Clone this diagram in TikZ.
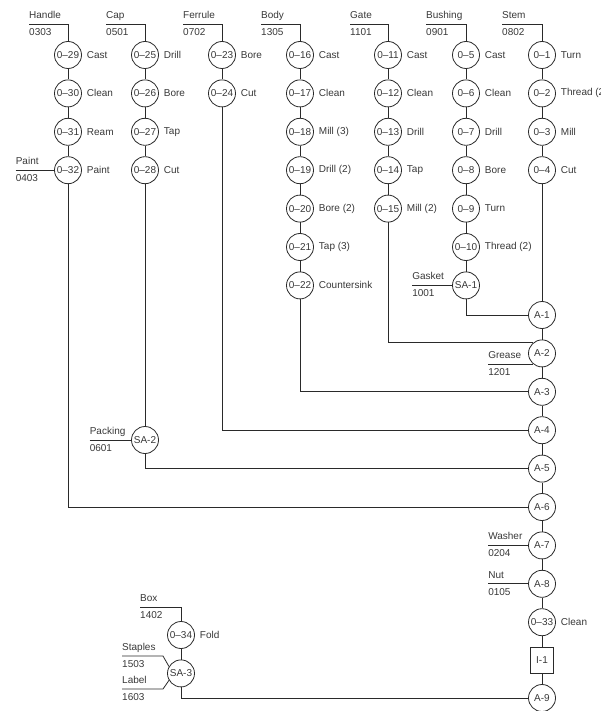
\documentclass[tikz,border=0pt]{standalone}
\usepackage{fontspec}
\setmainfont{Liberation Sans}
\usetikzlibrary{positioning}
\definecolor{ink}{HTML}{2A2A2A}
\definecolor{txt}{HTML}{383838}

\begin{document}
\begin{tikzpicture}[
    x=1pt, y=-1pt,
    node distance=10.6pt,
    label distance=1.5pt,
    op/.style={circle, draw=ink, line width=0.8pt, minimum size=27pt,
               inner sep=0pt, text=txt, font=\fontsize{10}{12}\selectfont},
    opname/.style={text=txt, font=\fontsize{10}{12}\selectfont},
    insp/.style={rectangle, draw=ink, line width=0.8pt, minimum width=23pt,
                 minimum height=26pt, inner sep=0pt, text=txt,
                 font=\fontsize{10}{12}\selectfont},
    partname/.style={anchor=base west, inner sep=0pt, yshift=5.5pt,
                     text=txt, font=\fontsize{10}{12}\selectfont},
    partnum/.style={anchor=base west, inner sep=0pt, yshift=-11.5pt,
                    text=txt, font=\fontsize{10}{12}\selectfont},
    link/.style={draw=ink, line width=0.8pt}
]
\useasboundingbox (0,0) rectangle (601,711);

% Stem
\node[op, label={[opname]right:Turn}] (o1) at (542,55) {0--1};
\node[op, below=of o1, label={[opname]right:Thread (2)}] (o2) {0--2};
\node[op, below=of o2, label={[opname]right:Mill}] (o3) {0--3};
\node[op, below=of o3, label={[opname]right:Cut}] (o4) {0--4};
% Bushing
\node[op, label={[opname]right:Cast}] (o5) at (466,55) {0--5};
\node[op, below=of o5, label={[opname]right:Clean}] (o6) {0--6};
\node[op, below=of o6, label={[opname]right:Drill}] (o7) {0--7};
\node[op, below=of o7, label={[opname]right:Bore}] (o8) {0--8};
\node[op, below=of o8, label={[opname]right:Turn}] (o9) {0--9};
\node[op, below=of o9, label={[opname]right:Thread (2)}] (o10) {0--10};
\node[op, below=of o10] (sa1) {SA-1};
% Gate
\node[op, label={[opname]right:Cast}] (o11) at (388,55) {0--11};
\node[op, below=of o11, label={[opname]right:Clean}] (o12) {0--12};
\node[op, below=of o12, label={[opname]right:Drill}] (o13) {0--13};
\node[op, below=of o13, label={[opname]right:Tap}] (o14) {0--14};
\node[op, below=of o14, label={[opname]right:Mill (2)}] (o15) {0--15};
% Body
\node[op, label={[opname]right:Cast}] (o16) at (300,55) {0--16};
\node[op, below=of o16, label={[opname]right:Clean}] (o17) {0--17};
\node[op, below=of o17, label={[opname]right:Mill (3)}] (o18) {0--18};
\node[op, below=of o18, label={[opname]right:Drill (2)}] (o19) {0--19};
\node[op, below=of o19, label={[opname]right:Bore (2)}] (o20) {0--20};
\node[op, below=of o20, label={[opname]right:Tap (3)}] (o21) {0--21};
\node[op, below=of o21, label={[opname]right:Countersink}] (o22) {0--22};
% Ferrule
\node[op, label={[opname]right:Bore}] (o23) at (222,55) {0--23};
\node[op, below=of o23, label={[opname]right:Cut}] (o24) {0--24};
% Cap
\node[op, label={[opname]right:Drill}] (o25) at (145,55) {0--25};
\node[op, below=of o25, label={[opname]right:Bore}] (o26) {0--26};
\node[op, below=of o26, label={[opname]right:Tap}] (o27) {0--27};
\node[op, below=of o27, label={[opname]right:Cut}] (o28) {0--28};
\node[op] (sa2) at (145,440) {SA-2};
% Handle
\node[op, label={[opname]right:Cast}] (o29) at (68,55) {0--29};
\node[op, below=of o29, label={[opname]right:Clean}] (o30) {0--30};
\node[op, below=of o30, label={[opname]right:Ream}] (o31) {0--31};
\node[op, below=of o31, label={[opname]right:Paint}] (o32) {0--32};
% assembly line
\node[op] (a1) at (542,315) {A-1};
\node[op, below=of a1] (a2) {A-2};
\node[op, below=of a2] (a3) {A-3};
\node[op, below=of a3] (a4) {A-4};
\node[op, below=of a4] (a5) {A-5};
\node[op, below=of a5] (a6) {A-6};
\node[op, below=of a6] (a7) {A-7};
\node[op, below=of a7] (a8) {A-8};
\node[op, below=of a8, label={[opname]right:Clean}] (o33) {0--33};
\node[insp, below=of o33] (i1) {I-1};
\node[op, below=of i1] (a9) {A-9};
% Box
\node[op, label={[opname]right:Fold}] (o34) at (181,635) {0--34};
\node[op, below=of o34] (sa3) {SA-3};

% purchased parts
\coordinate (handle) at (29,24);
\coordinate (cap) at (106,24);
\coordinate (ferrule) at (183,24);
\coordinate (body) at (261,24);
\coordinate (gate) at (350,24);
\coordinate (bushing) at (426,24);
\coordinate (stem) at (502,24);
\coordinate (paint) at ([xshift=-38.5pt]o32.west);
\coordinate (gasket) at ([xshift=-40pt]sa1.west);
\coordinate (packing) at ([xshift=-41.5pt]sa2.west);
\coordinate (grease) at ([xshift=-45pt]a2.230);
\coordinate (washer) at ([xshift=-40pt]a7.west);
\coordinate (nut) at ([xshift=-40pt]a8.west);
\coordinate (box) at (140,607);
\coordinate (staples) at (122,656);
\coordinate (staplesk) at (163,656);
\coordinate (lbl) at (122,689);
\coordinate (lblk) at (163,689);

\foreach \c/\n/\m in {handle/Handle/0303, cap/Cap/0501, ferrule/Ferrule/0702,
                      body/Body/1305, gate/Gate/1101, bushing/Bushing/0901,
                      stem/Stem/0802, paint/Paint/0403, gasket/Gasket/1001,
                      packing/Packing/0601, grease/Grease/1201,
                      washer/Washer/0204, nut/Nut/0105, box/Box/1402,
                      staples/Staples/1503, lbl/Label/1603}
{
    \node[partname] (\c-n) at (\c) {\n};
    \node[partnum] (\c-m) at (\c) {\m};
}

\foreach \a/\b in {o1/o2, o2/o3, o3/o4, o4/a1,
                   o5/o6, o6/o7, o7/o8, o8/o9, o9/o10, o10/sa1,
                   o11/o12, o12/o13, o13/o14, o14/o15,
                   o16/o17, o17/o18, o18/o19, o19/o20, o20/o21, o21/o22,
                   o23/o24, o25/o26, o26/o27, o27/o28, o28/sa2,
                   o29/o30, o30/o31, o31/o32,
                   a1/a2, a2/a3, a3/a4, a4/a5, a5/a6, a6/a7, a7/a8,
                   a8/o33, o33/i1, i1/a9, o34/sa3,
                   paint/o32, gasket/sa1, packing/sa2, washer/a7, nut/a8}
    \draw[link] (\a) -- (\b);
\draw[link] (grease) -- (a2.230);

\foreach \a/\b in {sa1/a1, o15/a2.130, o22/a3, o24/a4, sa2/a5, o32/a6, sa3/a9}
    \draw[link] (\a) |- (\b);

\foreach \c/\o in {handle/o29, cap/o25, ferrule/o23, body/o16, gate/o11,
                   bushing/o5, stem/o1, box/o34}
    \draw[link] (\c) -| (\o);

\draw[link] (staples) -- (staplesk) -- (sa3.150);
\draw[link] (lbl) -- (lblk) -- (sa3.210);
\end{tikzpicture}
\end{document}
